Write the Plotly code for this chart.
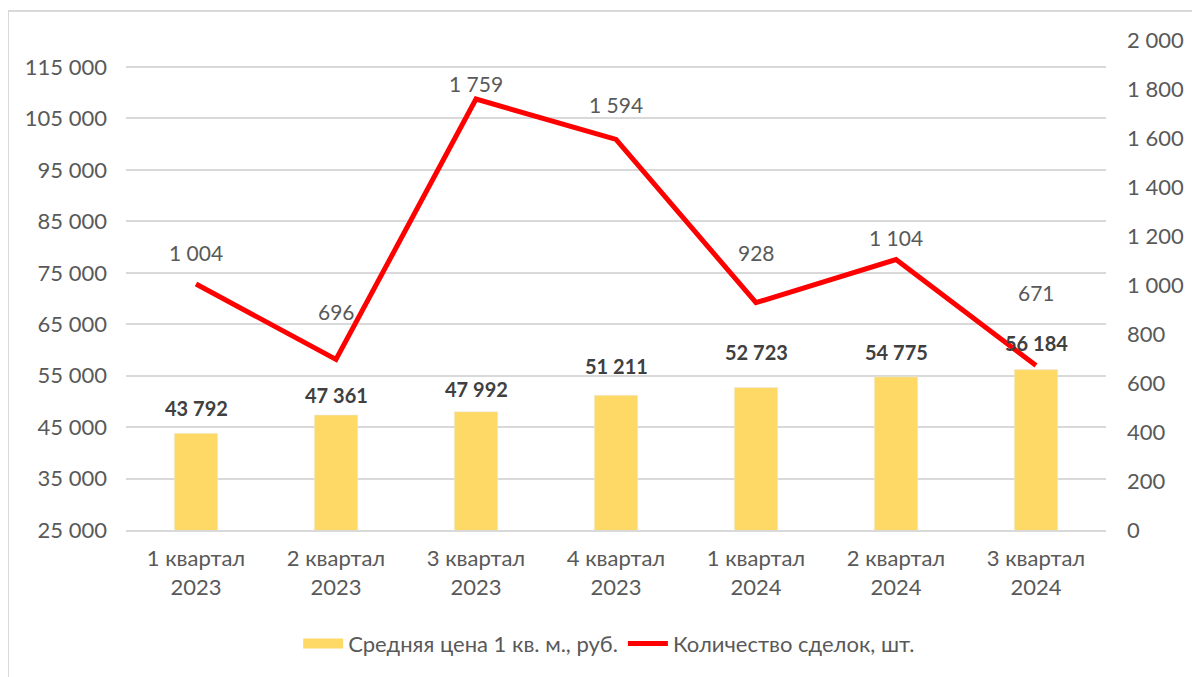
import plotly.graph_objects as go

# Data
quarters = ["1 квартал<br>2023", "2 квартал<br>2023", "3 квартал<br>2023", "4 квартал<br>2023",
            "1 квартал<br>2024", "2 квартал<br>2024", "3 квартал<br>2024"]
avg_price = [43792, 47361, 47992, 51211, 52723, 54775, 56184]
deals = [1004, 696, 1759, 1594, 928, 1104, 671]

price_name = "Средняя цена 1 кв. м., руб."
deals_name = "Количество сделок, шт."

# label offsets (px), as placed in the original
bar_label_shift = [25, 20, 23, 29, 35, 25, 27]
line_label_shift = [32, 48, 16, 35, 50, 22, 73]

FONT = "Lato, Noto Sans, sans-serif"
GREY = "#595959"
YELLOW = "#FFD966"


def fmt(v):
    return f"{v:,}".replace(",", " ")


fig = go.Figure()
fig.add_trace(go.Bar(x=quarters, y=avg_price, name=price_name, marker_color=YELLOW,
                     width=0.31, yaxis="y", showlegend=False))
# legend swatch for the bars (Excel draws a wide rectangle)
fig.add_trace(go.Scatter(x=[None], y=[None], name=price_name, mode="lines",
                         line=dict(color=YELLOW, width=12), yaxis="y"))
fig.add_trace(go.Scatter(x=quarters, y=deals, name=deals_name, mode="lines",
                         line=dict(color="#FF0000", width=5), yaxis="y2"))

annotations = []
for q, v, s in zip(quarters, avg_price, bar_label_shift):
    annotations.append(dict(x=q, y=v, xref="x", yref="y", text=fmt(v), showarrow=False,
                            yshift=s, font=dict(family=FONT, size=20, color="#404040", weight="bold")))
for q, v, s in zip(quarters, deals, line_label_shift):
    annotations.append(dict(x=q, y=v, xref="x", yref="y2", text=fmt(v), showarrow=False,
                            yshift=s, font=dict(family=FONT, size=21, color=GREY)))

# page body has an 8px margin, so the figure is offset by 8px
fig.update_layout(
    width=1192, height=669,
    margin=dict(l=118, r=94, t=32, b=147),
    paper_bgcolor="white", plot_bgcolor="white",
    font=dict(family=FONT, size=21, color=GREY),
    separators=", ",
    xaxis=dict(showgrid=False, showline=True, linecolor="#D9D9D9", linewidth=2,
               ticks="", ticklabelstandoff=8, automargin=False,
               tickfont=dict(size=22, color=GREY)),
    yaxis=dict(range=[25000, 120260], tick0=25000, dtick=10000, tickformat=",d",
               showgrid=True, gridcolor="#D9D9D9", gridwidth=2, zeroline=False,
               ticks="", ticklabelstandoff=18, automargin=False,
               tickfont=dict(size=22, color=GREY)),
    yaxis2=dict(range=[0, 2000], dtick=200, tickformat=",d", overlaying="y", side="right",
                showgrid=False, zeroline=False, ticks="", ticklabelstandoff=20, automargin=False,
                tickfont=dict(size=22, color=GREY)),
    legend=dict(orientation="h", x=0.493, xanchor="center", y=-0.232, yanchor="middle",
                font=dict(size=22, color=GREY), itemwidth=40, traceorder="normal"),
    annotations=annotations,
    shapes=[dict(type="rect", xref="paper", yref="paper", x0=-0.1204, x1=1.3, y0=-0.5, y1=1.0592,
                 line=dict(color="#D9D9D9", width=2), layer="below")],
)

fig.write_html("out.html")
